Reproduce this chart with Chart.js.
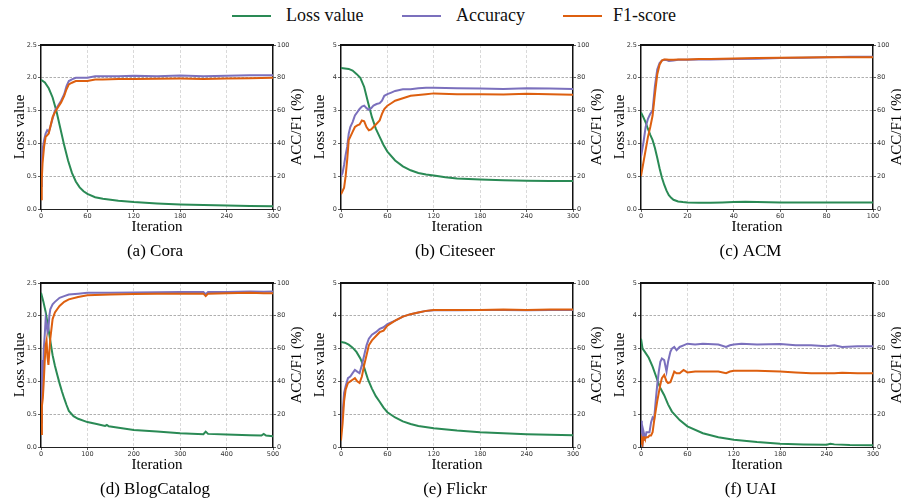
<!DOCTYPE html>
<html>
<head>
<meta charset="utf-8">
<script src="https://cdn.jsdelivr.net/npm/chart.js@4.4.1/dist/chart.umd.min.js"></script>
<style>
body{margin:0;background:#fff;width:901px;height:501px;overflow:hidden;position:relative;font-family:"Liberation Serif",serif;}
canvas{position:absolute;}
.ln{position:absolute;top:15px;height:2px;width:39px;}
.tx{position:absolute;top:4px;font-size:18px;line-height:22px;color:#111;white-space:nowrap;}
</style>
</head>
<body>
<div class="ln" style="left:232px;background:#2a8a55"></div><div class="tx" style="left:286px">Loss value</div>
<div class="ln" style="left:402px;background:#7b70bd"></div><div class="tx" style="left:456px">Accuracy</div>
<div class="ln" style="left:563px;background:#dd5f0f"></div><div class="tx" style="left:613px">F1-score</div>

<canvas id="pa" width="310" height="235" style="left:0;top:30px"></canvas>
<canvas id="pb" width="310" height="235" style="left:300px;top:30px"></canvas>
<canvas id="pc" width="301" height="235" style="left:600px;top:30px"></canvas>
<canvas id="pd" width="310" height="235" style="left:0;top:268px"></canvas>
<canvas id="pe" width="310" height="235" style="left:300px;top:268px"></canvas>
<canvas id="pf" width="301" height="235" style="left:600px;top:268px"></canvas>

<script>
// (a) Cora
const coraLossIt = [0,5,10,15,20,25,30,35,40,45,50,55,60,70,80,100,120,150,180,210,240,270,300];
const coraLoss   = [1.97,1.93,1.84,1.70,1.49,1.23,0.97,0.74,0.55,0.42,0.33,0.27,0.23,0.18,0.155,0.125,0.105,0.085,0.07,0.06,0.052,0.047,0.042];
const coraIt  = [0,1,2,4,6,8,10,12,15,18,22,26,30,33,36,40,45,50,60,70,80,100,120,150,180,210,240,270,300];
const coraAcc = [14,30,36,42,46,48,47,50,55,60,63,66,70,75,78,79,80,80,80,81,81,81,81.2,81,81.4,81,81.2,81.6,81.6];
const coraF1  = [6,18,28,38,44,45,46,50,56,59,62,65,69,73,76,77,78,78,78,79,79,79.3,79.2,79.4,79.5,79.3,79.5,79.8,80];

// (b) Citeseer
const citeLossIt = [0,10,15,20,25,30,35,40,45,50,55,60,70,80,90,100,110,120,135,150,180,210,240,270,300];
const citeLoss   = [4.3,4.27,4.22,4.12,4.0,3.72,3.25,2.8,2.45,2.2,1.95,1.75,1.48,1.3,1.18,1.1,1.05,1.02,0.97,0.93,0.9,0.88,0.86,0.85,0.85];
const citeIt  = [0,2,4,6,8,10,12,15,18,21,24,27,30,33,36,39,42,46,50,53,56,60,65,70,80,90,100,110,120,150,180,210,240,270,300];
const citeAcc = [20,22,27,33,38,46,50,53,57,59,61,62.5,63,61.5,60.5,61.5,63,64,64.5,66,69,70,71,72,73,73,73.6,74,74,73.6,73.4,73.2,73.6,73.4,73.2];
const citeF1  = [9,11,13,20,30,42,44,47,50,51,51.5,54,53.5,50,48,48.5,50,52,54,58,61,63,64.5,66,67.5,69,69.5,70,70.5,70,70,69.8,70.2,70,69.6];

// (c) ACM
const acmLossIt = [0,1,2,3,4,5,6,7,8,9,10,11,12,13,14,16,18,20,25,30,35,40,45,50,60,70,80,90,100];
const acmLoss   = [1.47,1.4,1.32,1.22,1.13,1.05,0.93,0.78,0.62,0.48,0.37,0.28,0.21,0.17,0.14,0.115,0.105,0.1,0.095,0.095,0.1,0.105,0.11,0.105,0.1,0.1,0.1,0.1,0.1];
const acmIt  = [0,1,2,3,4,5,6,7,8,9,10,11,12,14,16,20,25,30,40,50,60,70,80,90,100];
const acmAcc = [32,40,50,55,58,60,75,85,89,90.5,91,90.8,90.3,90.6,91,91,91.2,91.2,91.5,91.6,92,92.2,92.5,92.8,92.8];
const acmF1  = [20,28,36,44,50,57,70,82,88,90.5,91.2,91.2,91,91,91.2,91.2,91.4,91.5,91.8,92,92.2,92.4,92.5,92.5,92.5];

// (d) BlogCatalog
const blogLossIt = [0,5,10,15,20,25,30,35,40,45,50,55,60,70,80,100,120,138,142,146,160,200,250,300,350,355,360,400,450,475,480,485,500];
const blogLoss   = [2.35,2.22,2.06,1.85,1.62,1.4,1.24,1.1,0.97,0.85,0.74,0.64,0.55,0.47,0.43,0.38,0.35,0.32,0.335,0.315,0.3,0.26,0.235,0.21,0.195,0.235,0.2,0.19,0.18,0.175,0.2,0.175,0.165];
const blogIt  = [0,2,4,6,8,10,12,14,16,18,20,25,30,40,50,60,80,100,150,200,250,300,350,355,360,400,450,480,500];
const blogAcc = [15,53,40,60,68,78,75,70,72,80,84,87,88.5,91,92,93,93.5,94,94,94.2,94.3,94.5,94.5,93.2,94.5,94.5,94.8,94.6,94.8];
const blogF1  = [8,25,30,40,52,62,65,55,50,58,66,78,82,86,88.5,90,91.5,92.5,93,93.3,93.4,93.5,93.5,92,93.5,93.8,94,93.8,93.8];

// (e) Flickr
const flickLossIt = [0,5,10,15,20,25,30,35,40,45,50,55,60,70,80,90,100,120,150,180,210,240,270,300];
const flickLoss   = [3.2,3.18,3.12,3.03,2.9,2.7,2.42,2.05,1.78,1.55,1.38,1.2,1.06,0.9,0.78,0.7,0.64,0.57,0.5,0.45,0.42,0.39,0.37,0.36];
const flickIt  = [0,2,4,6,9,12,15,18,21,24,27,30,33,36,40,45,50,55,60,70,80,90,100,110,120,150,180,210,240,270,300];
const flickAcc = [10,20,33,37,42,43,45,47,46,45,50,56,62,66,68.5,70,72,73,75,77,79.5,81,82,83,83.4,83.4,83.6,83.5,83.4,83.6,83.6];
const flickF1  = [4,14,28,35,39,40,41,42,40,39,43,50,56,62,65,67.5,70,71,74,77,79.5,81,82,83,83.5,83.6,83.6,83.8,83.6,83.8,83.8];

// (f) UAI
const uaiLossIt = [0,2,5,10,15,20,22,25,30,35,40,50,60,80,100,120,150,180,210,240,245,250,270,300];
const uaiLoss   = [3.3,3.0,2.9,2.72,2.45,2.12,1.98,1.8,1.58,1.3,1.08,0.82,0.63,0.42,0.3,0.22,0.15,0.1,0.08,0.07,0.1,0.08,0.06,0.05];
const uaiIt  = [0,1,2,3,4,5,7,9,11,13,15,17,19,21,23,25,27,30,33,35,38,40,43,46,50,55,60,70,80,100,110,115,120,130,150,180,200,220,240,250,260,280,300];
const uaiAcc = [16,5,2,10,8,4,9,9,9,15,18,17,28,38,46,52,54,53,46,52,58,60,61,59,61,62,63,62.5,63,62.5,61,62,62.5,63,62.5,62.8,62,62,61.5,62,61,61.5,61.5];
const uaiF1  = [2,4,2,6,6,5,6,6,7,7,9,16,22,28,33,38,42,44,40,39,39.5,42,46,45,45,47,45.5,46,46,46,45,46,46.5,46.5,46.5,46,45.5,45,45,45,45.2,45,45];

const GREEN = '#2a8a55', PURPLE = '#7b70bd', ORANGE = '#dd5f0f';
const SERIF = '"Liberation Serif", serif';

Chart.defaults.font.family = 'DejaVu Sans';
Chart.defaults.animation = false;

function pts(xs, ys){
  return xs.map((x, i) => ({x: x, y: ys[i]}));
}

// matplotlib twin axis label reads bottom to top
const rightTitle = {
  id: 'rightTitle',
  afterDraw(chart){
    const a = chart.chartArea, ctx = chart.ctx;
    ctx.save();
    ctx.translate(a.right + 24, (a.top + a.bottom) / 2);
    ctx.rotate(-Math.PI / 2);
    ctx.font = '15px ' + SERIF;
    ctx.fillStyle = '#000';
    ctx.textAlign = 'center';
    ctx.textBaseline = 'middle';
    ctx.fillText('ACC/F1 (%)', 0, 0);
    ctx.restore();
  }
};

function panel(id, caption, xMax, xStep, lMax, lStep, digits, lossIt, loss, it, acc, f1){
  const canvas = document.getElementById(id);
  const nx = Math.round(xMax / xStep), ny = Math.round(lMax / lStep);
  new Chart(canvas, {
    type: 'line',
    data: {
      datasets: [
        {label: 'Loss value', data: pts(lossIt, loss), yAxisID: 'y', borderColor: GREEN, order: 3},
        {label: 'Accuracy', data: pts(it, acc), yAxisID: 'y1', borderColor: PURPLE, order: 2},
        {label: 'F1-score', data: pts(it, f1), yAxisID: 'y1', borderColor: ORANGE, order: 1}
      ]
    },
    options: {
      responsive: false,
      devicePixelRatio: 1,
      layout: {padding: {top: 15, left: 0, right: 0, bottom: 0}},
      elements: {
        point: {radius: 0},
        line: {borderWidth: 2, tension: 0}
      },
      plugins: {
        legend: {display: false},
        tooltip: {enabled: false},
        title: {
          display: true,
          position: 'bottom',
          text: caption,
          color: '#000',
          font: {family: SERIF, size: 17, weight: 'normal', lineHeight: 1.2},
          padding: {top: 0, bottom: 3}
        }
      },
      scales: {
        x: {
          type: 'linear', min: 0, max: xMax,
          ticks: {stepSize: xStep, color: '#333', font: {size: 6.5}, padding: 0, maxRotation: 0},
          grid: {
            color: c => (c.index === 0 || c.index === nx) ? 'rgba(0,0,0,0)' : '#cfcfcf',
            lineWidth: 0.8, tickLength: 3, tickColor: '#333', tickWidth: 0.8
          },
          border: {color: '#222', width: 1, dash: [3, 2]},
          title: {display: true, text: 'Iteration', color: '#000',
            font: {family: SERIF, size: 15, weight: 'normal', lineHeight: 1.2}, padding: {top: 0, bottom: 5.6}},
          afterFit: s => { s.height = 32.6; }
        },
        xTop: {
          type: 'linear', position: 'top', min: 0, max: xMax,
          ticks: {display: false},
          grid: {drawOnChartArea: false, drawTicks: false},
          border: {color: '#111', width: 2},
          afterFit: s => { s.height = 0; }
        },
        y: {
          position: 'left', min: 0, max: lMax,
          ticks: {stepSize: lStep, color: '#333', font: {size: 6.5}, padding: 1,
            callback: v => v.toFixed(digits)},
          grid: {
            color: c => (c.index === 0 || c.index === ny) ? 'rgba(0,0,0,0)' : '#9a9a9a',
            lineWidth: 0.8, tickLength: 3, tickColor: '#333', tickWidth: 0.8
          },
          border: {color: '#111', width: 1.5, dash: [2.5, 1.5]},
          title: {display: true, text: 'Loss value', color: '#000',
            font: {family: SERIF, size: 15, weight: 'normal', lineHeight: 1.2}, padding: {top: 11, bottom: 0}},
          afterFit: s => { s.width = 41; }
        },
        y1: {
          position: 'right', min: 0, max: 100,
          ticks: {stepSize: 20, color: '#333', font: {size: 6.5}, padding: 1},
          grid: {drawOnChartArea: false, tickLength: 3, tickColor: '#333', tickWidth: 0.8},
          border: {color: '#111', width: 1.5},
          afterFit: s => { s.width = canvas.width - 273; }
        }
      }
    },
    plugins: [rightTitle]
  });
}

panel('pa', '(a) Cora', 300, 60, 2.5, 0.5, 1, coraLossIt, coraLoss, coraIt, coraAcc, coraF1);
panel('pb', '(b) Citeseer', 300, 60, 5, 1, 0, citeLossIt, citeLoss, citeIt, citeAcc, citeF1);
panel('pc', '(c) ACM', 100, 20, 2.5, 0.5, 1, acmLossIt, acmLoss, acmIt, acmAcc, acmF1);
panel('pd', '(d) BlogCatalog', 500, 100, 2.5, 0.5, 1, blogLossIt, blogLoss, blogIt, blogAcc, blogF1);
panel('pe', '(e) Flickr', 300, 60, 5, 1, 0, flickLossIt, flickLoss, flickIt, flickAcc, flickF1);
panel('pf', '(f) UAI', 300, 60, 5, 1, 0, uaiLossIt, uaiLoss, uaiIt, uaiAcc, uaiF1);
</script>
</body>
</html>
